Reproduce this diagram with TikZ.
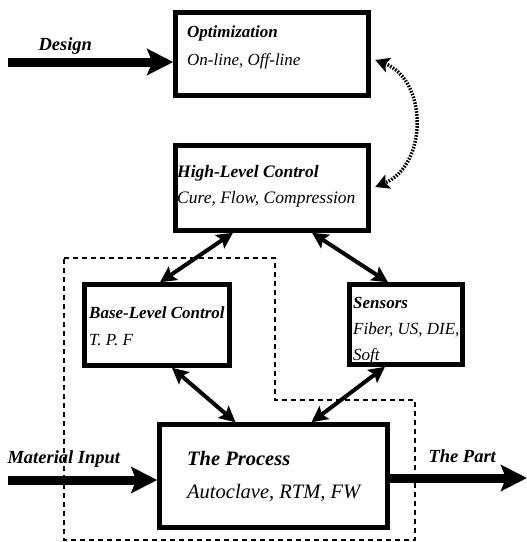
\documentclass[tikz,border=0pt]{standalone}
\usepackage{fontspec}
\setmainfont{Liberation Serif}
\usepackage{tikz}
\usetikzlibrary{positioning,arrows.meta}

\tikzset{
  blk/.style={draw, line width=4.5pt, inner sep=0pt},
  head/.style={font=\fontsize{18.5}{26}\selectfont\bfseries\itshape},
  txt/.style={align=left, inner sep=0pt, anchor=base west,
    font=\fontsize{17.5}{26}\selectfont\itshape},
  flow/.style={line width=9pt, -{Stealth[length=26pt,width=26pt,inset=5pt]}},
  link/.style={line width=4pt,
    {Stealth[length=16pt,width=16pt,inset=3pt]}-{Stealth[length=16pt,width=16pt,inset=3pt]}},
  dotlink/.style={line width=3.5pt, dash pattern=on 1.6pt off 1.4pt,
    {Stealth[length=14pt,width=15pt,inset=3pt]}-{Stealth[length=14pt,width=15pt,inset=3pt]}},
  region/.style={line width=1.4pt, dash pattern=on 5pt off 4pt}
}

\begin{document}
\begin{tikzpicture}[x=1pt,y=-1pt]
  \useasboundingbox (0,0) rectangle (527,542);

  % the boxes
  \node[blk, minimum width=193, minimum height=83] (opt)  at (272,54) {};
  \node[blk, minimum width=193, minimum height=85] (high) at (272,188) {};
  \node[blk, minimum width=145, minimum height=81] (base) at (157,325) {};
  \node[blk, minimum width=113, minimum height=80] (sens) at (406,324.5) {};
  \node[blk, minimum width=228, minimum height=103] (proc) at (273.5,476) {};

  % their texts (placed by the baseline of the last line)
  \node[txt, font=\fontsize{17}{28}\selectfont\itshape] (opttxt) at (187,65)
    {{\bfseries Optimization}\\ On-line, Off-line};
  \node[txt] (hightxt) at (177,203)
    {{\bfseries High-Level Control}\\ Cure, Flow, Compression};
  \node[txt, font=\fontsize{17}{27}\selectfont\itshape] (basetxt) at (89,345)
    {{\bfseries Base-Level Control}\\ T. P. F};
  \node[txt, font=\fontsize{17}{26}\selectfont\itshape] (senstxt) at (353,360)
    {{\bfseries Sensors}\\ Fiber, US, DIE,\\ Soft};
  \node[txt, font=\fontsize{20.5}{33}\selectfont\itshape] (proctxt) at (187,498)
    {{\bfseries The Process}\\ Autoclave, RTM, FW};

  % inputs and output
  \node[head, anchor=base west] (design) at (35,50) {Design};
  \node[head, anchor=base west] (matin) at (4,463) {Material Input};
  \node[head, anchor=base west] (part) at (425,462) {The Part};

  \coordinate (dsrc) at (8,62);
  \coordinate (msrc) at (8,480);
  \coordinate (pend) at (527,478);
  \draw[flow] (dsrc) -- (opt.west |- dsrc);
  \draw[flow] (msrc) -- (proc.west |- msrc);
  \draw[flow] (proc.east |- pend) -- (pend);

  % links between the levels
  \draw[dotlink] ([shift={(4.5,6)}]opt.east) .. controls (428,80) and (428,165) .. ([shift={(4.5,-1)}]high.east);
  \draw[link] ([xshift=-39]high.south) -- ([xshift=3]base.north);
  \draw[link] ([xshift=40]high.south) -- ([xshift=-18]sens.north);
  \draw[link] ([xshift=15]base.south) -- ([xshift=-38]proc.north);
  \draw[link] ([xshift=-21]sens.south) -- ([xshift=38]proc.north);

  % controlled region
  \draw[region] (64,258) -- (275,258) -- (275,400) -- (415,400) -- (415,540) -- (64,540) -- cycle;
\end{tikzpicture}
\end{document}
